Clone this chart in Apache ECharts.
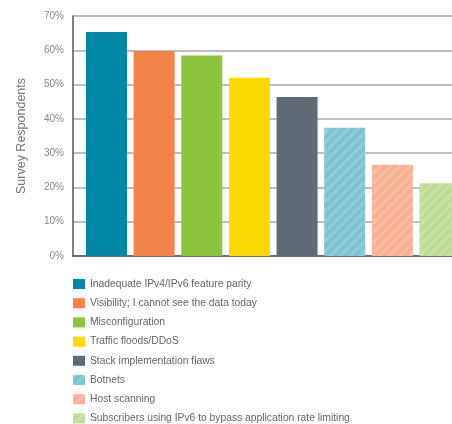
<!DOCTYPE html>
<html><head><meta charset="utf-8">
<script src="https://cdn.jsdelivr.net/npm/echarts@6/dist/echarts.min.js"></script>
<style>html,body{margin:0;padding:0;background:#fff}#c{width:452px;height:424px}</style>
</head><body><div id="c"></div>
<script>
const categories = [
  'Inadequate IPv4/IPv6 feature parity',
  'Visibility; I cannot see the data today',
  'Misconfiguration',
  'Traffic floods/DDoS',
  'Stack implementation flaws',
  'Botnets',
  'Host scanning',
  'Subscribers using IPv6 to bypass application rate limiting'
];
const values = [65.3, 59.8, 58.5, 52.0, 46.4, 37.4, 26.6, 21.2];
const yTicks = [0, 10, 20, 30, 40, 50, 60, 70];

const colors = ['#0088a7', '#f4834a', '#8cc33f', '#fcd900', '#5e6b75', '#7cc2d4', '#f7b092', '#bcdc94'];
const hatched = [false, false, false, false, false, true, true, true];
const FONT = 'Liberation Sans, Arial, sans-serif';

const chart = echarts.init(document.getElementById('c'), null, {renderer: 'canvas'});
const series = categories.map((name, i) => ({
  name: name,
  type: 'bar',
  xAxisIndex: 1,
  yAxisIndex: 1,
  barWidth: 41,
  barGap: '-100%',
  clip: false,
  data: categories.map((c, j) => j === i ? values[i] : '-'),
  itemStyle: {
    color: colors[i],
    decal: hatched[i] ? {
      symbol: 'rect', symbolSize: 1, dashArrayX: [1, 0], dashArrayY: [3, 4],
      rotation: -Math.PI / 4, color: 'rgba(255,255,255,0.16)'
    } : null
  },
  emphasis: {disabled: true}
}));

chart.setOption({
  animation: false,
  backgroundColor: '#fff',
  grid: [
    {left: 73, top: 16, bottom: 168, right: 0},
    {left: 106.5, top: 16, bottom: 168, right: 12}
  ],
  legend: {
    orient: 'vertical', left: 73, top: 279, padding: 0,
    itemWidth: 12, itemHeight: 10, itemGap: 9.2, icon: 'rect',
    textStyle: {fontSize: 10.3, color: '#666', fontFamily: FONT},
    data: categories
  },
  xAxis: [
    {type: 'value', gridIndex: 0, min: 0, max: 1, show: true,
     axisLine: {show: true, onZero: false, lineStyle: {color: '#555', width: 1.5}},
     axisTick: {show: false}, axisLabel: {show: false}, splitLine: {show: false}},
    {type: 'category', gridIndex: 1, data: categories, boundaryGap: false, show: false}
  ],
  yAxis: [
    {type: 'value', gridIndex: 0, min: yTicks[0], max: yTicks[yTicks.length - 1], interval: 10,
     axisLine: {show: true, lineStyle: {color: '#555', width: 1.5}},
     axisTick: {show: false},
     axisLabel: {formatter: '{value}%', fontSize: 10, color: '#888', margin: 9, fontFamily: FONT},
     splitLine: {show: true, lineStyle: {color: '#aaa', width: 1.5}},
     name: 'Survey Respondents', nameLocation: 'middle', nameGap: 45, nameRotate: 90,
     nameTextStyle: {fontSize: 12.5, color: '#777', fontFamily: FONT}},
    {type: 'value', gridIndex: 1, min: yTicks[0], max: yTicks[yTicks.length - 1], show: false,
     splitLine: {show: false}}
  ],
  series: series
});
</script></body></html>
